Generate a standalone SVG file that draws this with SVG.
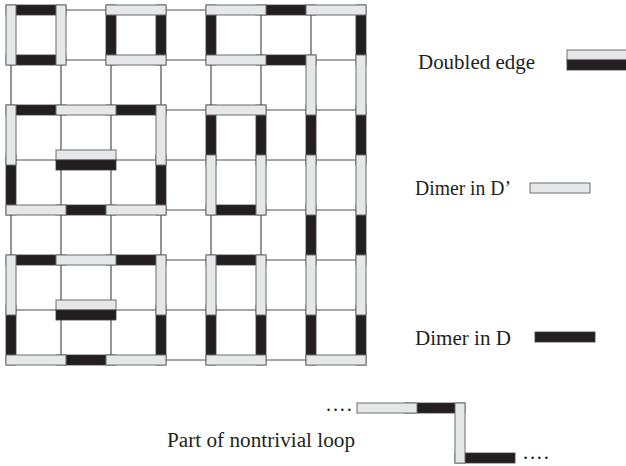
<svg xmlns="http://www.w3.org/2000/svg" width="626" height="466" viewBox="0 0 626 466">
<style>
.grid line{stroke:#4d4d4d;stroke-width:1.2}
.d{fill:#231f20;stroke:#3a3a3a;stroke-width:0.8}
.l{fill:#e6e7e8;stroke:#6d6e71;stroke-width:1}
.t{font-family:"Liberation Serif","Times New Roman",serif;font-size:20.5px;fill:#231f20}
</style>
<rect width="626" height="466" fill="#fff"/>
<g id="grid" class="grid">
<line x1="11" y1="10" x2="11" y2="360"/><line x1="61" y1="10" x2="61" y2="360"/><line x1="111" y1="10" x2="111" y2="360"/><line x1="161" y1="10" x2="161" y2="360"/><line x1="211" y1="10" x2="211" y2="360"/><line x1="261" y1="10" x2="261" y2="360"/><line x1="311" y1="10" x2="311" y2="360"/><line x1="361" y1="10" x2="361" y2="360"/>
<line x1="11" y1="10" x2="361" y2="10"/><line x1="11" y1="60" x2="361" y2="60"/><line x1="11" y1="110" x2="361" y2="110"/><line x1="11" y1="160" x2="361" y2="160"/><line x1="11" y1="210" x2="361" y2="210"/><line x1="11" y1="260" x2="361" y2="260"/><line x1="11" y1="310" x2="361" y2="310"/><line x1="11" y1="360" x2="361" y2="360"/>
</g>
<g id="dimers-D">
<rect class="d" x="6" y="5" width="60" height="10"/><rect class="d" x="6" y="55" width="60" height="10"/><rect class="d" x="6" y="105" width="60" height="10"/><rect class="d" x="106" y="105" width="60" height="10"/><rect class="d" x="56" y="205" width="60" height="10"/><rect class="d" x="6" y="255" width="60" height="10"/><rect class="d" x="106" y="255" width="60" height="10"/><rect class="d" x="56" y="355" width="60" height="10"/><rect class="d" x="256" y="5" width="60" height="10"/><rect class="d" x="256" y="55" width="60" height="10"/><rect class="d" x="206" y="205" width="60" height="10"/><rect class="d" x="206" y="255" width="60" height="10"/>
<rect class="d" x="106" y="5" width="10" height="60"/><rect class="d" x="156" y="5" width="10" height="60"/><rect class="d" x="6" y="155" width="10" height="60"/><rect class="d" x="156" y="155" width="10" height="60"/><rect class="d" x="6" y="305" width="10" height="60"/><rect class="d" x="156" y="305" width="10" height="60"/><rect class="d" x="206" y="5" width="10" height="60"/><rect class="d" x="356" y="5" width="10" height="60"/><rect class="d" x="206" y="105" width="10" height="60"/><rect class="d" x="256" y="105" width="10" height="60"/><rect class="d" x="306" y="105" width="10" height="60"/><rect class="d" x="356" y="105" width="10" height="60"/><rect class="d" x="306" y="205" width="10" height="60"/><rect class="d" x="356" y="205" width="10" height="60"/><rect class="d" x="206" y="305" width="10" height="60"/><rect class="d" x="256" y="305" width="10" height="60"/><rect class="d" x="306" y="305" width="10" height="60"/><rect class="d" x="356" y="305" width="10" height="60"/>
</g>
<g id="dimers-Dprime">
<rect class="l" x="106" y="5" width="60" height="10"/><rect class="l" x="106" y="55" width="60" height="10"/><rect class="l" x="56" y="105" width="60" height="10"/><rect class="l" x="6" y="205" width="60" height="10"/><rect class="l" x="106" y="205" width="60" height="10"/><rect class="l" x="56" y="255" width="60" height="10"/><rect class="l" x="6" y="355" width="60" height="10"/><rect class="l" x="106" y="355" width="60" height="10"/><rect class="l" x="206" y="5" width="60" height="10"/><rect class="l" x="306" y="5" width="60" height="10"/><rect class="l" x="206" y="55" width="60" height="10"/><rect class="l" x="206" y="105" width="60" height="10"/><rect class="l" x="206" y="355" width="60" height="10"/><rect class="l" x="306" y="355" width="60" height="10"/>
<rect class="l" x="6" y="5" width="10" height="60"/><rect class="l" x="56" y="5" width="10" height="60"/><rect class="l" x="6" y="105" width="10" height="60"/><rect class="l" x="156" y="105" width="10" height="60"/><rect class="l" x="6" y="255" width="10" height="60"/><rect class="l" x="156" y="255" width="10" height="60"/><rect class="l" x="306" y="55" width="10" height="60"/><rect class="l" x="356" y="55" width="10" height="60"/><rect class="l" x="206" y="155" width="10" height="60"/><rect class="l" x="256" y="155" width="10" height="60"/><rect class="l" x="306" y="155" width="10" height="60"/><rect class="l" x="356" y="155" width="10" height="60"/><rect class="l" x="206" y="255" width="10" height="60"/><rect class="l" x="256" y="255" width="10" height="60"/><rect class="l" x="306" y="255" width="10" height="60"/><rect class="l" x="356" y="255" width="10" height="60"/>
</g>
<g id="doubled-edges">
<rect class="l" x="56" y="150" width="60" height="10"/><rect class="d" x="56" y="160" width="60" height="10"/>
<rect class="l" x="56" y="300" width="60" height="10"/><rect class="d" x="56" y="310" width="60" height="10"/>
</g>
<g id="legend-doubled">
<text class="t" x="418" y="68.5" textLength="117" lengthAdjust="spacingAndGlyphs">Doubled edge</text>
<rect class="l" x="567" y="50" width="60" height="10"/><rect class="d" x="567" y="60" width="60" height="10"/>
</g>
<g id="legend-Dprime">
<text class="t" x="415" y="195" textLength="96" lengthAdjust="spacingAndGlyphs">Dimer in D’</text>
<rect class="l" x="530" y="183" width="60" height="10"/>
</g>
<g id="legend-D">
<text class="t" x="415" y="345" textLength="96" lengthAdjust="spacingAndGlyphs">Dimer in D</text>
<rect class="d" x="535" y="332" width="60" height="10"/>
</g>
<g id="loop">
<text class="t" x="326" y="411" letter-spacing="1.8">....</text>
<rect class="d" x="405" y="403" width="60" height="10"/>
<rect class="d" x="455" y="453" width="60" height="10"/>
<rect class="l" x="357" y="403" width="60" height="10"/>
<rect class="l" x="455" y="403" width="10" height="60"/>
<text class="t" x="523" y="459" letter-spacing="1.8">....</text>
<text class="t" x="167" y="447" textLength="188" lengthAdjust="spacingAndGlyphs">Part of nontrivial loop</text>
</g>
</svg>
